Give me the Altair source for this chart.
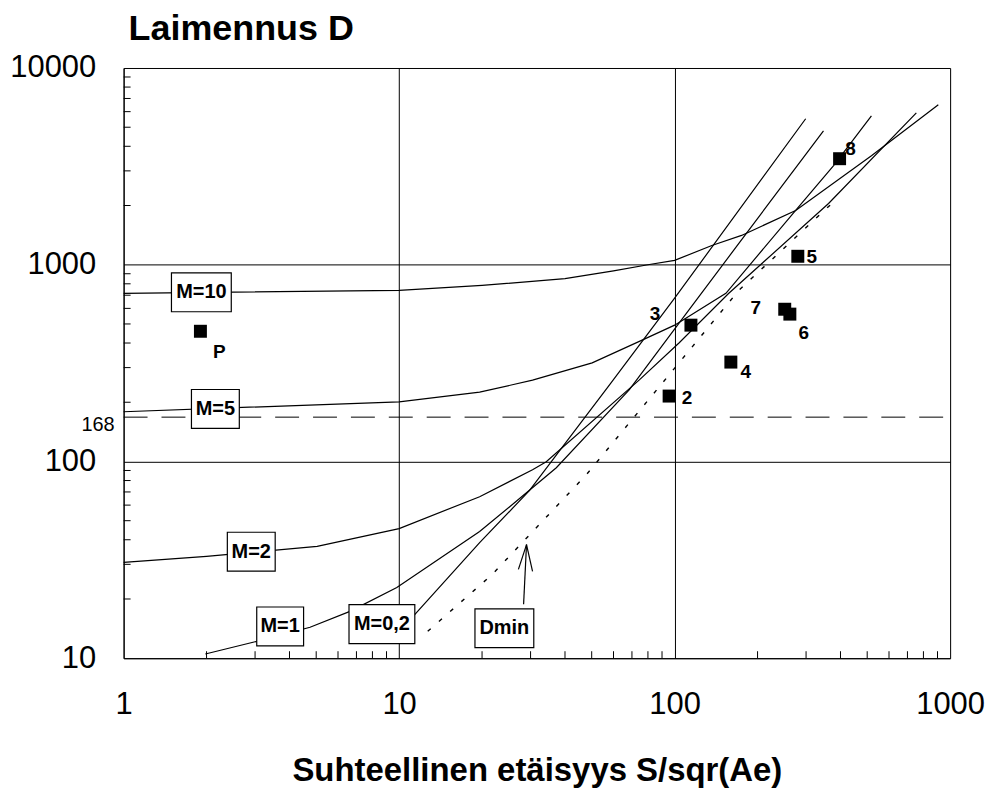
import altair as alt
import pandas as pd

# ---- data (log-log) ----
m10_x = [1, 10, 20, 40, 60, 80, 100, 136.5, 175, 275, 518, 906]
m10_y = [716, 740, 785, 850, 930, 1000, 1052, 1253, 1409, 1888, 3580, 6500]
m5_x = [1, 10, 19.6, 30.5, 50.2, 76.2, 100, 153.5, 275, 377.6, 518]
m5_y = [179, 201, 225, 259, 317, 414, 493, 716, 1888, 3192, 5715]
m2_x = [1, 2, 5.04, 10, 19.6, 30.5, 34.2, 74.3, 103.7, 157.3, 362, 754]
m2_y = [30.7, 32.9, 37.0, 45.6, 66.2, 90.8, 99.6, 259, 400, 716, 2047, 5916]
m1_x = [1.98, 2.95, 4.75, 6.63, 9.81, 19.6, 25.2, 37.2, 68.4, 101.2, 166.8, 347]
m1_y = [10.5, 12.05, 14.36, 17.3, 22.9, 44.1, 58.9, 92.9, 231, 482, 1225, 4796]
m02_x = [10, 19.6, 29.7, 58.4, 100, 299]
m02_y = [13.6, 38.7, 71.0, 248, 676, 5521]
dmin_x = [12.7, 21.8, 47.8, 87.8, 171, 371]
dmin_y = [13.7, 26.7, 85.6, 239, 741, 2040]

pt_labels = ["P", "2", "3", "4", "5", "6", "7", "8"]
pt_x = [1.90, 95.5, 114.6, 160, 280, 262, 251, 397]
pt_y = [459, 215, 493, 320, 1104, 561, 594, 3459]

box_labels = ["M=10", "M=5", "M=2", "M=1", "M=0,2", "Dmin"]
box_x = [1.915, 2.153, 2.906, 3.70, 8.66, 24.1]
box_y = [724, 185, 34.8, 14.5, 14.9, 14.2]

ref_value = 168
x_minor = [m * d for d in (1, 10, 100) for m in range(2, 10)]
y_minor = [m * d for d in (10, 100, 1000) for m in range(2, 10)]

arrow_x = [28.3, 29.0, 27.1, 29.0, 30.5, 29.0]
arrow_y = [18.8, 37.8, 28.3, 37.8, 27.6, 37.8]

# ---- styling ----
W, H = 829, 592
FONT = "Liberation Sans, Arial, sans-serif"

xs = alt.Scale(type="log", domain=[1, 1000])
ys = alt.Scale(type="log", domain=[10, 10000])
xaxis = alt.Axis(values=[1, 10, 100, 1000], format="d",
                 title="Suhteellinen etäisyys S/sqr(Ae)", titleFont=FONT,
                 titleFontSize=33, titleFontWeight="bold", titlePadding=36,
                 labelFont=FONT, labelFontSize=31, labelPadding=31,
                 labelFlush=False, labelColor="black", titleColor="black",
                 ticks=False, grid=True, gridColor="black", gridOpacity=1,
                 gridWidth=1, domainColor="black")
yaxis = alt.Axis(values=[10, 100, 1000, 10000], format="d", title=None,
                 labelFont=FONT, labelFontSize=31, labelPadding=28,
                 labelColor="black", labelFlush=False,
                 ticks=False, grid=True, gridColor="black", gridOpacity=1,
                 gridWidth=1, domainColor="black")


def X(f="x"):
    return alt.X(f, type="quantitative", scale=xs, axis=xaxis)


def Y(f="y"):
    return alt.Y(f, type="quantitative", scale=ys, axis=yaxis)


rows = []
for name, xx, yy in [("M=10", m10_x, m10_y), ("M=5", m5_x, m5_y),
                     ("M=2", m2_x, m2_y), ("M=1", m1_x, m1_y),
                     ("M=0,2", m02_x, m02_y)]:
    for i, (a, b) in enumerate(zip(xx, yy)):
        rows.append({"s": name, "x": a, "y": b, "o": i})
curves_df = pd.DataFrame(rows)
dmin_df = pd.DataFrame({"x": dmin_x, "y": dmin_y, "o": range(len(dmin_x))})

layers = []

# reference dashed line 168
ref_df = pd.DataFrame({"x": [1, 1000], "y": [ref_value, ref_value], "o": [0, 1]})
layers.append(alt.Chart(ref_df).mark_line(color="black", strokeWidth=1,
                                          strokeDash=[24, 14]).encode(
    x=X(), y=Y(), order="o:Q"))

# minor ticks (inside)
layers.append(alt.Chart(pd.DataFrame({"x": x_minor})).mark_rule(
    color="black", strokeWidth=1).encode(
    x=X(), y=alt.value(H), y2=alt.value(H - 7)))
layers.append(alt.Chart(pd.DataFrame({"y": y_minor})).mark_rule(
    color="black", strokeWidth=1).encode(
    y=Y(), x=alt.value(0), x2=alt.value(7)))

# curves
layers.append(alt.Chart(curves_df).mark_line(color="black", strokeWidth=1.2).encode(
    x=X(), y=Y(), detail="s:N", order="o:Q"))
layers.append(alt.Chart(dmin_df).mark_line(color="black", strokeWidth=1.4,
                                           strokeDash=[4, 11]).encode(
    x=X(), y=Y(), order="o:Q"))

# arrow
arr_df = pd.DataFrame({"x": arrow_x[0::2], "y": arrow_y[0::2],
                       "x2": arrow_x[1::2], "y2": arrow_y[1::2]})
layers.append(alt.Chart(arr_df).mark_rule(color="black", strokeWidth=1.2).encode(
    x=X(), y=Y(), x2="x2", y2="y2"))

# label 168
layers.append(alt.Chart(pd.DataFrame({"x": [1], "y": [ref_value], "t": ["168"]})).mark_text(
    font=FONT, fontSize=20, align="right", baseline="middle", dx=-9, dy=8,
    color="black").encode(x=X(), y=Y(), text="t:N"))

# boxes with labels
box_w = [60, 48, 48, 47, 66, 59]
for lab, bx, by, bw in zip(box_labels, box_x, box_y, box_w):
    bh = 39
    r = bh / bw
    path = f"M-1,{-r:.3f}L1,{-r:.3f}L1,{r:.3f}L-1,{r:.3f}Z"
    d = pd.DataFrame({"x": [bx], "y": [by], "t": [lab]})
    layers.append(alt.Chart(d).mark_point(shape=path, size=bw * bw, filled=True,
                                          fill="white", stroke="black",
                                          strokeWidth=1.2, opacity=1).encode(
        x=X(), y=Y()))
    layers.append(alt.Chart(d).mark_text(font=FONT, fontSize=20, fontWeight="bold",
                                         color="black").encode(
        x=X(), y=Y(), text="t:N"))

# data points
pts_df = pd.DataFrame({"x": pt_x, "y": pt_y, "t": pt_labels})
layers.append(alt.Chart(pts_df).mark_square(size=169, color="black", opacity=1).encode(
    x=X(), y=Y()))
offsets = {"P": (19, 21), "2": (18, 2), "3": (-36, -11), "4": (15, 10),
           "5": (14, 1), "6": (14, 19), "7": (-29, -1), "8": (11, -10)}
for lab in pt_labels:
    dx, dy = offsets[lab]
    layers.append(alt.Chart(pts_df).transform_filter(
        alt.datum.t == lab).mark_text(font=FONT, fontSize=19, fontWeight="bold",
                                      color="black", dx=dx, dy=dy).encode(
        x=X(), y=Y(), text="t:N"))

chart = alt.layer(*layers).properties(
    width=W, height=H,
    title=alt.TitleParams("Laimennus D", anchor="start", frame="group", font=FONT,
                          fontSize=36, fontWeight="bold", color="black", dx=5,
                          offset=4),
    padding={"left": 9, "top": 10, "right": 5, "bottom": 5},
).configure_view(stroke="black", strokeWidth=1).configure(background="white")

chart.save("out.html", embed_options={"renderer": "svg", "actions": False})
